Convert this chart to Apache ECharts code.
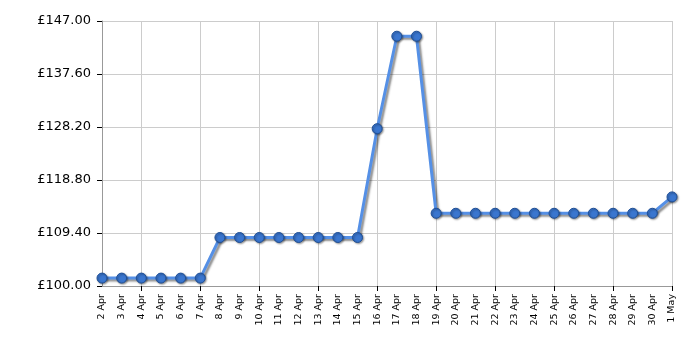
<!DOCTYPE html>
<html><head><meta charset="utf-8">
<script src="https://cdn.jsdelivr.net/npm/echarts@6/dist/echarts.min.js"></script>
<style>html,body{margin:0;padding:0;background:#fff}#c{width:700px;height:350px}</style>
</head><body><div id="c"></div>
<script>
const categories = ['2 Apr','3 Apr','4 Apr','5 Apr','6 Apr','7 Apr','8 Apr','9 Apr','10 Apr','11 Apr','12 Apr','13 Apr','14 Apr','15 Apr','16 Apr','17 Apr','18 Apr','19 Apr','20 Apr','21 Apr','22 Apr','23 Apr','24 Apr','25 Apr','26 Apr','27 Apr','28 Apr','29 Apr','30 Apr','1 May'];
const prices = [101.4,101.4,101.4,101.4,101.4,101.4,108.6,108.6,108.6,108.6,108.6,108.6,108.6,108.6,127.9,144.3,144.3,112.9,112.9,112.9,112.9,112.9,112.9,112.9,112.9,112.9,112.9,112.9,112.9,115.8];
const yMin = 100, yMax = 147, yInterval = 9.4;

const chart = echarts.init(document.getElementById('c'), null, {renderer:'canvas'});
const every3 = (i) => (i - 2) % 3 === 0;
chart.setOption({
  animation: false,
  grid: {left: 102, right: 28, top: 21, bottom: 64, containLabel: false},
  xAxis: {
    type: 'category', data: categories, boundaryGap: false,
    axisLine: {lineStyle: {color: '#999', width: 1}},
    axisTick: {show: true, interval: every3, length: 5, lineStyle: {color: '#000'}},
    splitLine: {show: true, interval: every3, lineStyle: {color: '#ccc', width: 1}},
    axisLabel: {interval: 0, rotate: 90, fontFamily: 'DejaVu Sans', fontSize: 9.5, color: '#000', margin: 8}
  },
  yAxis: {
    type: 'value', min: yMin, max: yMax, interval: yInterval,
    axisLine: {show: true, lineStyle: {color: '#999', width: 1}},
    axisTick: {show: true, length: 5, lineStyle: {color: '#000'}},
    splitLine: {show: true, lineStyle: {color: '#ccc', width: 1}},
    axisLabel: {fontFamily: 'DejaVu Sans', fontSize: 13, color: '#000', margin: 11,
      formatter: v => '£' + v.toFixed(2)}
  },
  series: [{
    type: 'line', data: prices,
    symbol: 'circle', symbolSize: 10,
    lineStyle: {color: '#5590e6', width: 3, shadowColor: 'rgba(0,0,0,0.45)', shadowBlur: 2, shadowOffsetX: 2, shadowOffsetY: 2},
    itemStyle: {color: '#3a76cf', borderColor: '#1f4f96', borderWidth: 1, shadowColor: 'rgba(0,0,0,0.4)', shadowBlur: 2, shadowOffsetX: 1, shadowOffsetY: 1}
  }]
});
</script></body></html>
